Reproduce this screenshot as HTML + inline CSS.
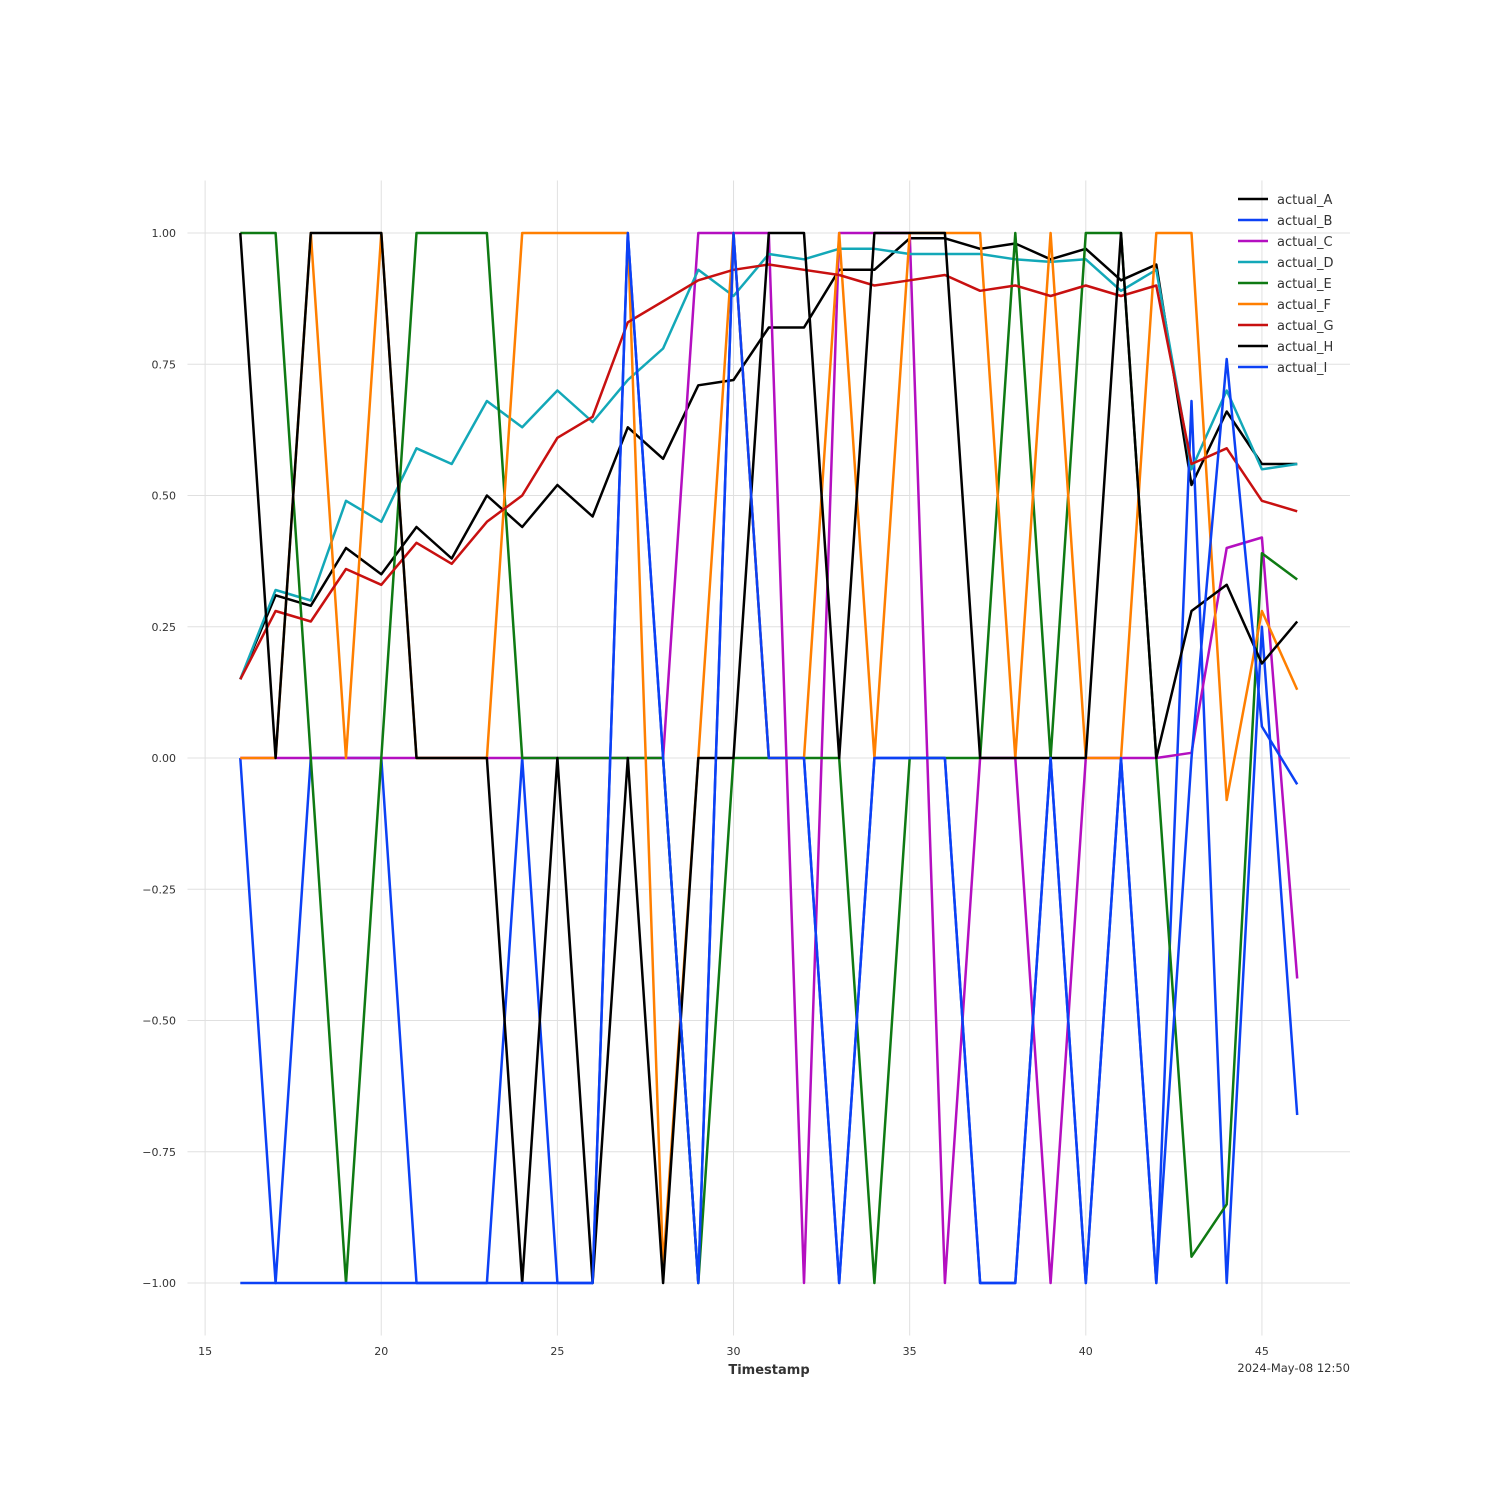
<!DOCTYPE html>
<html><head><meta charset="utf-8"><style>
body{margin:0;background:#fff;}
svg text{font-family:"DejaVu Sans","Liberation Sans",sans-serif;}
</style></head><body>
<svg id="chart" width="1500" height="1500" xmlns="http://www.w3.org/2000/svg">
<g id="grid"></g>
<g id="ticks"></g>
<g id="series"></g>
<g id="legend"></g>
<text x="769" y="1374" text-anchor="middle" font-size="13" font-weight="bold" fill="#333">Timestamp</text>
<text x="1350" y="1372" text-anchor="end" font-size="11.5" fill="#333">2024-May-08 12:50</text>
</svg>
<script>
const xs = [16,17,18,19,20,21,22,23,24,25,26,27,28,29,30,31,32,33,34,35,36,37,38,39,40,41,42,43,44,45,46];
const names = ["actual_A","actual_B","actual_C","actual_D","actual_E","actual_F","actual_G","actual_H","actual_I"];
const colors = ["#000000","#0c41f5","#b40fc0","#13a8b8","#0f7a13","#ff7f00","#c81010","#000000","#0c41f5"];
const sA = [0.15,0.31,0.29,0.40,0.35,0.44,0.38,0.50,0.44,0.52,0.46,0.63,0.57,0.71,0.72,0.82,0.82,0.93,0.93,0.99,0.99,0.97,0.98,0.95,0.97,0.91,0.94,0.52,0.66,0.56,0.56];
const sB = [0,-1,0,0,0,-1,-1,-1,0,-1,-1,1,0,-1,1,0,0,-1,0,0,0,-1,-1,0,-1,0,-1,0.68,-1,0.25,-0.68];
const sC = [0,0,0,0,0,0,0,0,0,0,0,0,0,1,1,1,-1,1,1,1,-1,0,0,-1,0,0,0,0.01,0.40,0.42,-0.42];
const sD = [0.15,0.32,0.30,0.49,0.45,0.59,0.56,0.68,0.63,0.70,0.64,0.72,0.78,0.93,0.88,0.96,0.95,0.97,0.97,0.96,0.96,0.96,0.95,0.945,0.95,0.89,0.93,0.55,0.70,0.55,0.56];
const sE = [1,1,0,-1,0,1,1,1,0,0,0,0,0,-1,0,0,0,0,-1,0,0,0,1,0,1,1,0,-0.95,-0.85,0.39,0.34];
const sF = [0,0,1,0,1,0,0,0,1,1,1,1,-0.97,0,1,0,0,1,0,1,1,1,0,1,0,0,1,1,-0.08,0.28,0.13];
const sG = [0.15,0.28,0.26,0.36,0.33,0.41,0.37,0.45,0.50,0.61,0.65,0.83,0.87,0.91,0.93,0.94,0.93,0.92,0.90,0.91,0.92,0.89,0.90,0.88,0.90,0.88,0.90,0.56,0.59,0.49,0.47];
const sH = [1,0,1,1,1,0,0,0,-1,0,-1,0,-1,0,0,1,1,0,1,1,1,0,0,0,0,1,0,0.28,0.33,0.18,0.26];
const sI = [-1,-1,-1,-1,-1,-1,-1,-1,-1,-1,-1,1,0,-1,1,0,0,-1,0,0,0,-1,-1,0,-1,0,-1,0,0.76,0.06,-0.05];
const xTicks = [15,20,25,30,35,40,45];
const yTicks = [1.00,0.75,0.50,0.25,0.00,-0.25,-0.50,-0.75,-1.00];
const yLabels = ["1.00","0.75","0.50","0.25","0.00","\u22120.25","\u22120.50","\u22120.75","\u22121.00"];

const X0=187.5,X1=1350,XMIN=14.5,XMAX=47.5,Y0=180.5,Y1=1335.5,YMAX=1.1,YMIN=-1.1;
const xScale=v=>X0+(v-XMIN)/(XMAX-XMIN)*(X1-X0);
const yScale=v=>Y0+(YMAX-v)/(YMAX-YMIN)*(Y1-Y0);
const NS="http://www.w3.org/2000/svg";
function mk(tag,attrs,parent){const e=document.createElementNS(NS,tag);for(const k in attrs)e.setAttribute(k,attrs[k]);parent.appendChild(e);return e;}
const grid=document.getElementById('grid'),ticks=document.getElementById('ticks');
xTicks.forEach(t=>{
  const l=mk('line',{x1:xScale(t),x2:xScale(t),y1:Y0,y2:Y1,stroke:'#e0e0e0','stroke-width':1},grid);
  
  
  const tx=mk('text',{x:xScale(t),y:1355,'text-anchor':'middle','font-size':11,fill:'#333'},ticks);
  tx.textContent=t;
  
  
});
yTicks.forEach((t,i)=>{
  const l=mk('line',{x1:X0,x2:X1,y1:yScale(t),y2:yScale(t),stroke:'#e0e0e0','stroke-width':1},grid);
  
  
  const tx=mk('text',{x:176,y:yScale(t)+4,'text-anchor':'end','font-size':11,fill:'#333'},ticks);
  tx.textContent=yLabels[i];
  
  
});
const data=[sA,sB,sC,sD,sE,sF,sG,sH,sI];
const ser=document.getElementById('series'),leg=document.getElementById('legend');
data.forEach((s,i)=>{
  const pts=s.map((v,j)=>xScale(xs[j]).toFixed(1)+','+yScale(v).toFixed(1)).join(' ');
  const p=mk('polyline',{points:pts,fill:'none',stroke:colors[i],'stroke-width':2.5,'stroke-linejoin':'round'},ser);
  
  
  const y=199+i*21;
  const ll=mk('line',{x1:1238,x2:1268,y1:y,y2:y,stroke:colors[i],'stroke-width':2.5},leg);
  
  
  const lt=mk('text',{x:1277,y:y+5,'font-size':13,fill:'#333'},leg);
  lt.textContent=names[i];
  
  
});
</script>
</body></html>
